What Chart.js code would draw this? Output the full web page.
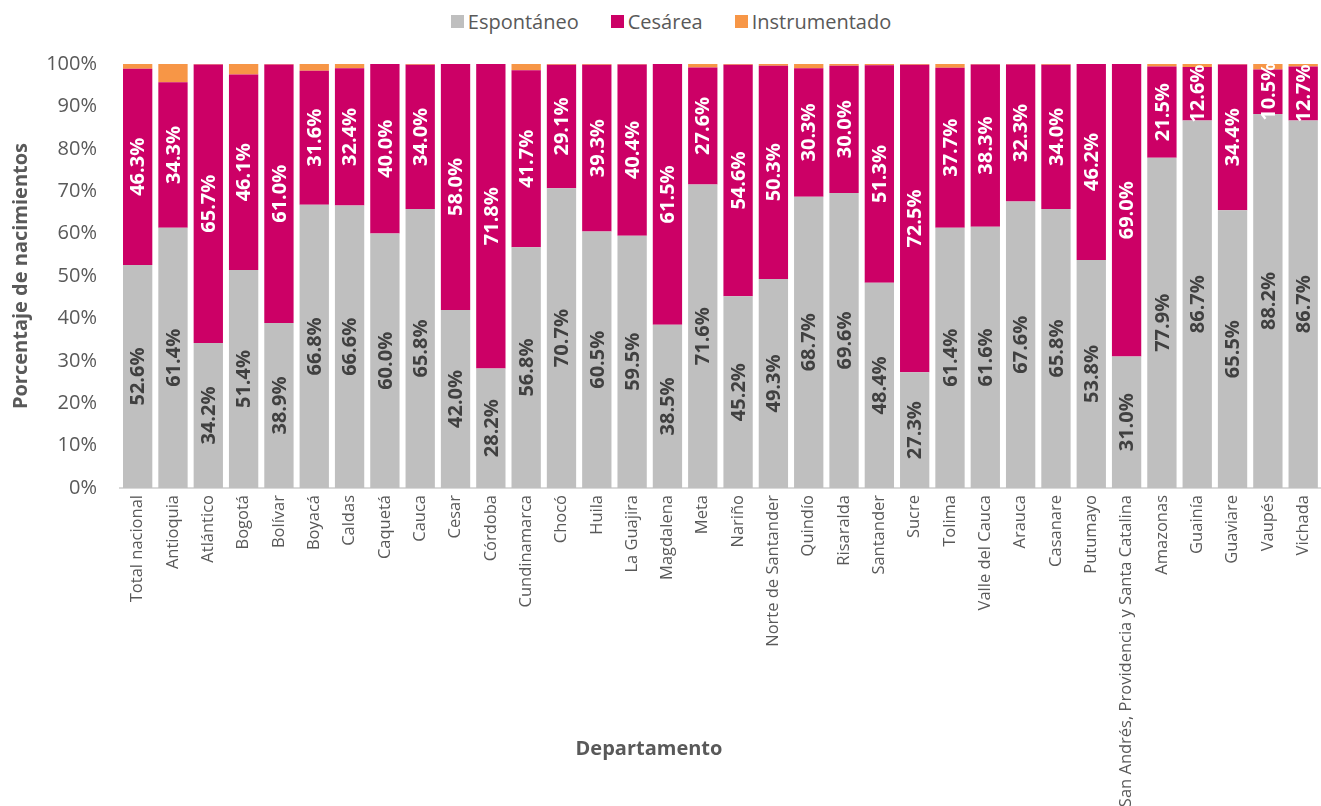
<!DOCTYPE html>
<html>
<head>
<meta charset="utf-8">
<script src="https://cdn.jsdelivr.net/npm/chart.js@4.4.1/dist/chart.umd.min.js"></script>
<style>
  body { margin: 0; background: #fff; width: 1321px; height: 806px; overflow: hidden; position: relative; font-family: 'Open Sans', sans-serif; }
  #chart { position: absolute; left: 0; top: 0; }
  #legend { position: absolute; top: 8px; left: 0; width: 1342px; display: flex; justify-content: center; gap: 32px; font-size: 20px; color: #595959; }
  #legend .item { display: flex; align-items: center; }
  #legend .sw { width: 13px; height: 13px; margin-right: 4px; }
</style>
</head>
<body>
<div id="legend"></div>
<canvas id="chart" width="1330" height="806"></canvas>
<script>
// ─── data ────────────────────────────────────────────────────────────────────
const categories = [
  'Total nacional', 'Antioquia', 'Atlántico', 'Bogotá', 'Bolívar', 'Boyacá', 'Caldas',
  'Caquetá', 'Cauca', 'Cesar', 'Córdoba', 'Cundinamarca', 'Chocó', 'Huila', 'La Guajira',
  'Magdalena', 'Meta', 'Nariño', 'Norte de Santander', 'Quindío', 'Risaralda', 'Santander',
  'Sucre', 'Tolima', 'Valle del Cauca', 'Arauca', 'Casanare', 'Putumayo',
  'San Andrés, Providencia y Santa Catalina', 'Amazonas', 'Guainía', 'Guaviare', 'Vaupés', 'Vichada',
];

const espontaneo = [
  52.6, 61.4, 34.2, 51.4, 38.9, 66.8, 66.6, 60.0, 65.8, 42.0, 28.2, 56.8, 70.7, 60.5, 59.5,
  38.5, 71.6, 45.2, 49.3, 68.7, 69.6, 48.4, 27.3, 61.4, 61.6, 67.6, 65.8, 53.8, 31.0,
  77.9, 86.7, 65.5, 88.2, 86.7,
];

const cesarea = [
  46.3, 34.3, 65.7, 46.1, 61.0, 31.6, 32.4, 40.0, 34.0, 58.0, 71.8, 41.7, 29.1, 39.3, 40.4,
  61.5, 27.6, 54.6, 50.3, 30.3, 30.0, 51.3, 72.5, 37.7, 38.3, 32.3, 34.0, 46.2, 69.0,
  21.5, 12.6, 34.4, 10.5, 12.7,
];

const instrumentado = [
  1.1, 4.3, 0.1, 2.5, 0.1, 1.6, 1.0, 0.0, 0.2, 0.0, 0.0, 1.5, 0.2, 0.2, 0.1,
  0.0, 0.8, 0.2, 0.4, 1.0, 0.4, 0.3, 0.2, 0.9, 0.1, 0.1, 0.2, 0.0, 0.0,
  0.6, 0.7, 0.1, 1.3, 0.6,
];

const C = {
  gray:   '#bfbfbf',
  pink:   '#cc0066',
  orange: '#f79646',
  text:   '#595959',
  dark:   '#404040',
  axis:   '#d9d9d9',
};

Chart.defaults.font.family = "'Open Sans', sans-serif";

// ─── plugins ─────────────────────────────────────────────────────────────────
const barLabels = {
  id: 'barLabels',
  afterDatasetsDraw(chart) {
    const ctx = chart.ctx;
    ctx.save();
    ctx.font = "bold 20px 'Open Sans'";
    ctx.textAlign = 'center';
    ctx.textBaseline = 'middle';
    [0, 1].forEach(di => {
      const meta = chart.getDatasetMeta(di);
      meta.data.forEach((bar, i) => {
        const v = chart.data.datasets[di].data[i];
        ctx.save();
        ctx.translate(bar.x, (bar.y + bar.base) / 2);
        ctx.rotate(-Math.PI / 2);
        ctx.fillStyle = di === 0 ? C.dark : '#ffffff';
        ctx.fillText(v.toFixed(1) + '%', 0, 1);
        ctx.restore();
      });
    });
    ctx.restore();
  },
};

const xTitle = {
  id: 'xTitle',
  afterDraw(chart) {
    const ctx = chart.ctx;
    ctx.save();
    ctx.font = "bold 20px 'Open Sans'";
    ctx.fillStyle = C.text;
    ctx.textAlign = 'center';
    ctx.textBaseline = 'middle';
    ctx.fillText('Departamento', 649, 749);
    ctx.restore();
  },
};

// ─── chart ───────────────────────────────────────────────────────────────────
const ds = (label, data, color) => ({
  label, data, backgroundColor: color, borderWidth: 0,
  barPercentage: 0.83, categoryPercentage: 1,
});

const chart = new Chart(document.getElementById('chart'), {
  type: 'bar',
  data: {
    labels: categories,
    datasets: [
      ds('Espontáneo', espontaneo, C.gray),
      ds('Cesárea', cesarea, C.pink),
      ds('Instrumentado', instrumentado, C.orange),
    ],
  },
  options: {
    responsive: false,
    animation: false,
    layout: { padding: { top: 64, right: 1, left: 0, bottom: 0 } },
    plugins: { legend: { display: false }, tooltip: { enabled: false } },
    scales: {
      x: {
        stacked: true,
        grid: { display: false, drawTicks: false },
        border: { display: true, color: C.axis, width: 2 },
        ticks: { autoSkip: false, maxRotation: 90, minRotation: 90, color: C.text, font: { size: 16.5 }, padding: 7 },
        afterFit(s) { s.height = 318; },
      },
      y: {
        stacked: true,
        min: 0,
        max: 100,
        grid: { display: false, drawTicks: false },
        border: { display: false },
        ticks: { stepSize: 10, callback: v => v + '%', color: C.text, font: { size: 20 }, padding: 23 },
        title: { display: true, text: 'Porcentaje de nacimientos', color: C.text, font: { size: 20, weight: 'bold' }, padding: { top: 9, bottom: 0 } },
        afterFit(s) { s.width = 120; },
      },
    },
  },
  plugins: [barLabels, xTitle],
});

// HTML legend from the datasets
document.getElementById('legend').innerHTML = chart.data.datasets.map(d => `
  <div class="item"><span class="sw" style="background:${d.backgroundColor}"></span>${d.label}</div>
`).join('');
</script>
</body>
</html>
